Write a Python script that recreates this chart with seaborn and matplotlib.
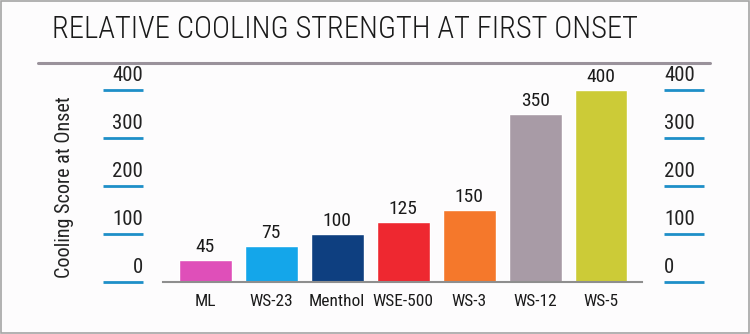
import matplotlib
matplotlib.use("Agg")
import matplotlib.pyplot as plt
import matplotlib.transforms as mtransforms
from matplotlib.patches import Rectangle
import seaborn as sns
import pandas as pd

categories = ["ML", "WS-23", "Menthol", "WSE-500", "WS-3", "WS-12", "WS-5"]
scores = [45, 75, 100, 125, 150, 350, 400]
bar_colors = ["#DF4FB9", "#14A6EA", "#0E3F80", "#EE2830", "#F5782B", "#A89BA6", "#CCCB37"]
yticks = [0, 100, 200, 300, 400]
title = "RELATIVE COOLING STRENGTH AT FIRST ONSET"
ylabel = "Cooling Score at Onset"

sns.set_theme(style="white")
plt.rcParams['font.family'] = ['Roboto Condensed', 'Roboto', 'DejaVu Sans']

df = pd.DataFrame({"cat": categories, "score": scores})

fig = plt.figure(figsize=(7.5, 3.34), dpi=100, facecolor="#FDFCFD")
ax = fig.add_axes([163/750, 52/334, 479/750, 201.6/334])
ax.set_facecolor("none")

sns.barplot(data=df, x="cat", y="score", hue="cat", palette=bar_colors,
            width=0.8, legend=False, ax=ax, saturation=1)

ax.set_xlim(-0.64, 6.62)
ax.set_ylim(0, 419)
for s in ["top", "right", "left"]:
    ax.spines[s].set_visible(False)
ax.spines["bottom"].set_color("#8E8E8E")
ax.spines["bottom"].set_linewidth(1.5)
ax.set_yticks([])
ax.set_xlabel("")
ax.set_ylabel("")
ax.tick_params(axis="x", length=0, pad=9, labelsize=12.5, labelcolor="#1A1A1A")

# value labels
for i, v in enumerate(scores):
    ax.text(i, v + 8, f"{v}", ha="center", va="bottom", fontsize=14, color="#1A1A1A")

# custom tick marks on both sides
tr = mtransforms.blended_transform_factory(ax.transAxes, ax.transData)
tick_color = "#1E8FC8"
for t in yticks:
    ax.plot([-0.1253, -0.0418], [t, t], transform=tr, color=tick_color, lw=2, clip_on=False,
            solid_capstyle="butt")
    ax.plot([1.046, 1.129], [t, t], transform=tr, color=tick_color, lw=2, clip_on=False,
            solid_capstyle="butt")
    ax.text(-0.0418, t + 10, f"{t}", transform=tr, ha="right", va="bottom",
            fontsize=15, color="#222222")
    ax.text(1.046, t + 10, f"{t}", transform=tr, ha="left", va="bottom",
            fontsize=15, color="#222222")

# y label
fig.text(65/750, 1 - 187/334, ylabel, rotation=90, ha="center", va="center",
         fontsize=14.5, color="#222222")

# title
fig.text(52/750, 1 - 30/334, title, ha="left", va="center", fontsize=22,
         fontweight="light", color="#1A1A1A")

# separator line under title
fig.add_artist(plt.Line2D([38/750, 710/750], [1 - 62.5/334, 1 - 62.5/334],
                          color="#9A929B", lw=2.2, transform=fig.transFigure))

# figure border
fig.add_artist(Rectangle((0.0007, 0.0015), 0.9975, 0.996, transform=fig.transFigure,
                         fill=False, edgecolor="#A5A5A5", lw=1.2))

fig.savefig("out.png", dpi=100, facecolor=fig.get_facecolor())
